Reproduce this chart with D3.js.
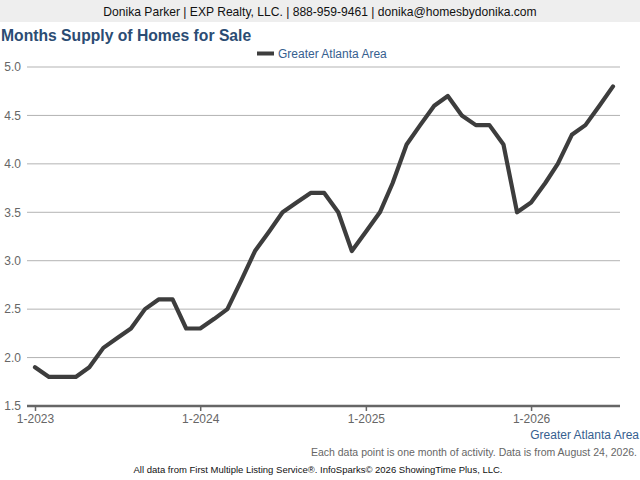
<!DOCTYPE html>
<html><head><meta charset="utf-8">
<script src="https://cdn.jsdelivr.net/npm/d3@7"></script>
<style>
html,body{margin:0;padding:0;background:#fff;}
svg{display:block;font-family:"Liberation Sans",Arial,sans-serif;}
</style></head>
<body><svg id="c" width="640" height="480"></svg>
<script>
const months = ["2023-01","2023-02","2023-03","2023-04","2023-05","2023-06","2023-07","2023-08","2023-09","2023-10","2023-11","2023-12",
"2024-01","2024-02","2024-03","2024-04","2024-05","2024-06","2024-07","2024-08","2024-09","2024-10","2024-11","2024-12",
"2025-01","2025-02","2025-03","2025-04","2025-05","2025-06","2025-07","2025-08","2025-09","2025-10","2025-11","2025-12",
"2026-01","2026-02","2026-03","2026-04","2026-05","2026-06","2026-07"];
const supply = [1.9,1.8,1.8,1.8,1.9,2.1,2.2,2.3,2.5,2.6,2.6,2.3,
2.3,2.4,2.5,2.8,3.1,3.3,3.5,3.6,3.7,3.7,3.5,3.1,
3.3,3.5,3.8,4.2,4.4,4.6,4.7,4.5,4.4,4.4,4.2,3.5,
3.6,3.8,4.0,4.3,4.4,4.6,4.8];
const yTicks = [1.5,2.0,2.5,3.0,3.5,4.0,4.5,5.0];
const xTickDates = ["2023-01","2024-01","2025-01","2026-01"];
const xTickLabels = ["1-2023","1-2024","1-2025","1-2026"];
const seriesName = "Greater Atlanta Area";

const parse = d3.timeParse("%Y-%m");
const data = months.map((m,i)=>({date:parse(m), v:supply[i]}));

const svg = d3.select("#c");
// header band
svg.append("rect").attr("x",0).attr("y",0).attr("width",640).attr("height",22).attr("fill","#eeeeee");
svg.append("text").attr("x",320).attr("y",16).attr("text-anchor","middle")
  .attr("font-size",12.1).attr("fill","#111")
  .text("Donika Parker | EXP Realty, LLC. | 888-959-9461 | donika@homesbydonika.com");
svg.append("text").attr("x",1).attr("y",41).attr("font-size",15.7).attr("font-weight","bold")
  .attr("fill","#2b4c73").text("Months Supply of Homes for Sale");
// legend
svg.append("rect").attr("x",257).attr("y",51.5).attr("width",17).attr("height",4).attr("fill","#3d3d3d");
svg.append("text").attr("x",278).attr("y",58).attr("font-size",12).attr("fill","#36608f").text(seriesName);

const x = d3.scaleTime().domain([parse("2023-01"), parse("2026-07")]).range([35,613]);
const y = d3.scaleLinear().domain([1.5,5.0]).range([406,67]);

// grid
const g = svg.append("g");
g.selectAll("line.grid").data(yTicks.filter(t=>t>1.5)).enter().append("line")
  .attr("x1",27).attr("x2",620).attr("y1",d=>y(d)).attr("y2",d=>y(d))
  .attr("stroke","#b3b3b3").attr("stroke-width",1);

// y axis labels
const yAxis = d3.axisLeft(y).tickValues(yTicks).tickFormat(d3.format(".1f")).tickSize(0).tickPadding(0);
const ya = svg.append("g").attr("transform","translate(21,0)").call(yAxis);
ya.select(".domain").remove();
ya.selectAll("text").attr("font-size",12).attr("fill","#666").attr("font-family","Liberation Sans, Arial, sans-serif");

// x axis
const xAxis = d3.axisBottom(x).tickValues(xTickDates.map(parse)).tickFormat((d,i)=>xTickLabels[i]).tickSize(5).tickPadding(3);
const xa = svg.append("g").attr("transform","translate(0,406)").call(xAxis);
xa.select(".domain").remove();
xa.selectAll(".tick line").attr("stroke","#666").attr("stroke-width",1.5);
xa.selectAll("text").attr("font-size",12).attr("fill","#666").attr("font-family","Liberation Sans, Arial, sans-serif");
svg.append("line").attr("x1",27).attr("x2",620).attr("y1",406).attr("y2",406).attr("stroke","#666").attr("stroke-width",2.5);

// line
svg.append("path").datum(data)
  .attr("d", d3.line().x(d=>x(d.date)).y(d=>y(d.v)))
  .attr("fill","none").attr("stroke","#3d3d3d").attr("stroke-width",4.2)
  .attr("stroke-linejoin","round").attr("stroke-linecap","round");

// footer
svg.append("text").attr("x",639).attr("y",439).attr("text-anchor","end").attr("font-size",12).attr("fill","#36608f").text(seriesName);
svg.append("text").attr("x",637).attr("y",456).attr("text-anchor","end").attr("font-size",10.5).attr("fill","#666")
  .text("Each data point is one month of activity. Data is from August 24, 2026.");
svg.append("text").attr("x",318).attr("y",473).attr("text-anchor","middle").attr("font-size",9.5).attr("fill","#111")
  .text("All data from First Multiple Listing Service®. InfoSparks© 2026 ShowingTime Plus, LLC.");
</script></body></html>
